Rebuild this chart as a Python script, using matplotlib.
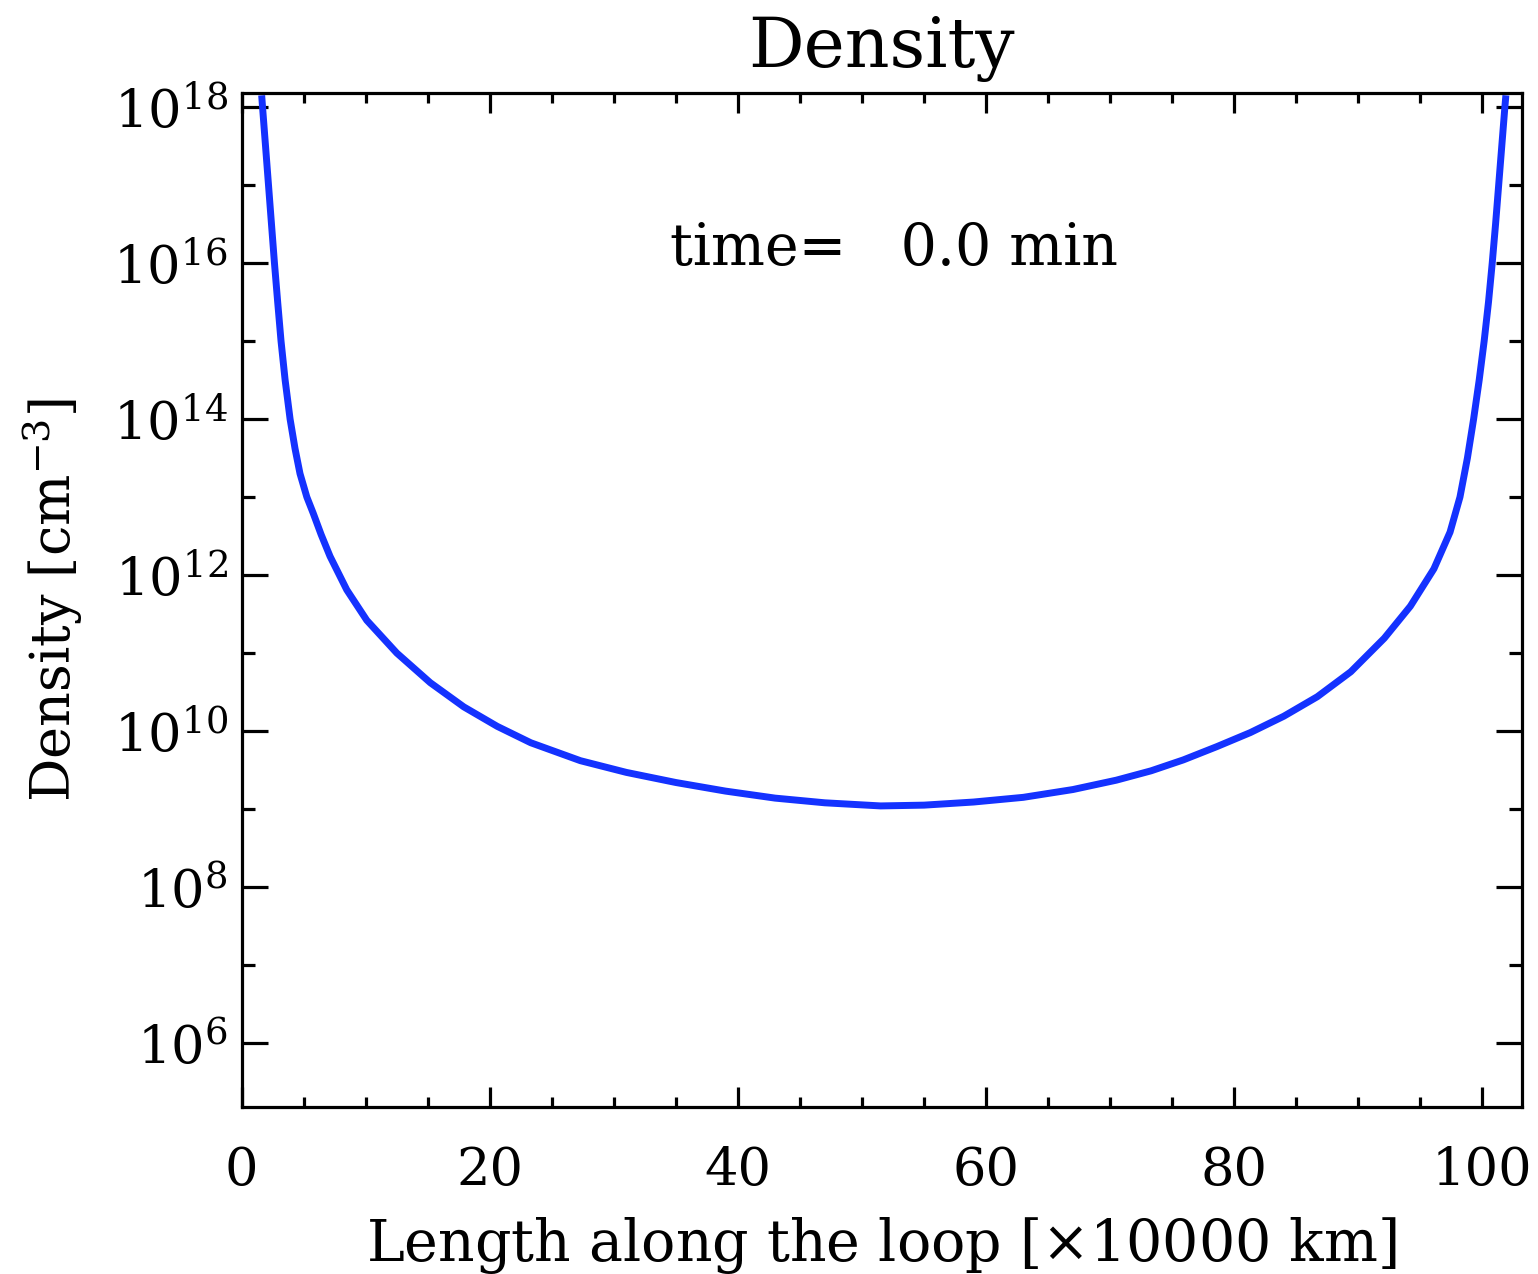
import numpy as np
import matplotlib
matplotlib.use("Agg")
import matplotlib.pyplot as plt
from matplotlib.ticker import FixedLocator, FixedFormatter, NullFormatter

plt.rcParams['font.family'] = ['DejaVu Serif']
plt.rcParams['mathtext.fontset'] = 'dejavuserif'

# Position along the loop [x10000 km]
length = [1.61, 1.68, 1.92, 2.16, 2.40, 2.64, 2.90, 3.17, 3.50, 3.90, 4.30, 4.70,
          5.25, 5.77, 6.40, 7.12, 8.47, 10.08, 12.5, 15.2, 17.9, 20.6, 23.3, 27.3,
          31.0, 35.0, 39.0, 43.0, 47.0, 51.5, 55.0, 59.0, 63.0, 67.0, 70.5, 73.3,
          75.9, 78.6, 81.3, 84.0, 86.7, 89.4, 92.1, 94.2, 96.1, 97.4, 98.2, 98.8,
          99.3, 99.75, 100.15, 100.5, 100.8, 101.07, 101.32, 101.57, 101.82, 101.9]
# log10 of density [cm^-3]
log_density = [18.15, 18.0, 17.5, 17.0, 16.5, 16.0, 15.5, 15.0, 14.5, 14.0, 13.62,
               13.30, 13.0, 12.79, 12.52, 12.24, 11.81, 11.42, 11.0, 10.62, 10.31,
               10.06, 9.85, 9.62, 9.47, 9.34, 9.23, 9.14, 9.08, 9.04, 9.05, 9.09,
               9.15, 9.25, 9.37, 9.49, 9.63, 9.80, 9.98, 10.19, 10.44, 10.76, 11.19,
               11.60, 12.08, 12.55, 13.0, 13.5, 14.0, 14.5, 15.0, 15.5, 16.0, 16.5,
               17.0, 17.5, 18.0, 18.15]

x_major = [0, 20, 40, 60, 80, 100]
x_minor = [5, 10, 15, 25, 30, 35, 45, 50, 55, 65, 70, 75, 85, 90, 95]
y_major_exp = [6, 8, 10, 12, 14, 16, 18]
y_minor_exp = [7, 9, 11, 13, 15, 17]

fig = plt.figure(figsize=(15.38, 12.74), dpi=100)
ax = fig.add_axes([241.7/1538, 1 - 1107/1274, (1522 - 241.7)/1538, (1107 - 93)/1274])

density = 10.0 ** np.array(log_density)
ax.plot(length, density, color='#1432ff', lw=5.0, solid_joinstyle='round',
        solid_capstyle='butt')

ax.set_yscale('log')
ax.set_xlim(0, 103.2)
ax.set_ylim(10**5.18, 10**18.18)

ax.xaxis.set_major_locator(FixedLocator(x_major))
ax.xaxis.set_minor_locator(FixedLocator(x_minor))
ax.xaxis.set_major_formatter(FixedFormatter([str(v) for v in x_major]))
ax.yaxis.set_major_locator(FixedLocator([10.0**e for e in y_major_exp]))
ax.yaxis.set_minor_locator(FixedLocator([10.0**e for e in y_minor_exp]))
ax.yaxis.set_major_formatter(FixedFormatter([r'$10^{%d}$' % e for e in y_major_exp]))
ax.yaxis.set_minor_formatter(NullFormatter())

for s in ax.spines.values():
    s.set_linewidth(2.3)

ax.tick_params(axis='x', which='both', direction='in', top=True, bottom=True,
               width=2.3, labelsize=38, pad=27)
ax.tick_params(axis='x', which='major', length=14.5)
ax.tick_params(axis='x', which='minor', length=7.3)
ax.tick_params(axis='y', which='both', direction='in', left=True, right=True,
               width=2.3, labelsize=38, pad=10)
ax.tick_params(axis='y', which='major', length=18.4)
ax.tick_params(axis='y', which='minor', length=9.2)

ax.set_title('Density', fontsize=50, pad=19)
ax.set_xlabel(r'Length along the loop [$\times$10000 km]', fontsize=41, labelpad=14)
ax.set_ylabel(r'Density [cm$^{-3}$]', fontsize=39, labelpad=20)

ax.text(0.3345, 0.846, 'time=   0.0 min', transform=ax.transAxes,
        fontsize=41, ha='left', va='center')

fig.savefig('out.png', dpi=100)
